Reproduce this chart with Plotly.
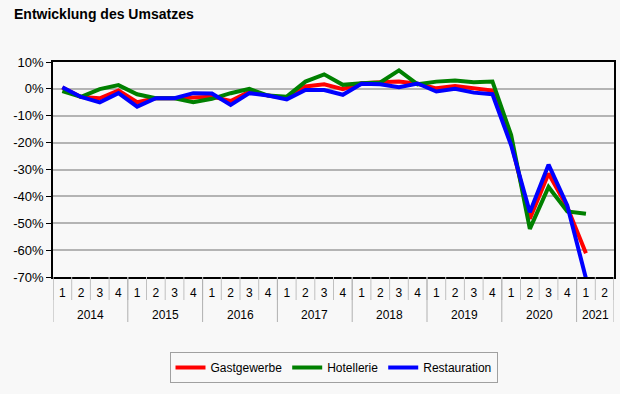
import plotly.graph_objects as go

year_labels = ["2014", "2015", "2016", "2017", "2018", "2019", "2020", "2021"]
quarters_per_year = [4, 4, 4, 4, 4, 4, 4, 2]
years = [y for y, n in zip(year_labels, quarters_per_year) for _ in range(n)]
quarters = [str(q + 1) for n in quarters_per_year for q in range(n)]
categories = [f"{y}-{q}" for y, q in zip(years, quarters)]

gastgewerbe = [0.5, -3, -3.5, -0.6, -5, -3.5, -3.5, -3.2, -2.9, -4.5, -1, -2.5,
               -3.5, 0.9, 1.7, -0.1, 2.1, 2.5, 2.7, 1.9, 0.2, 1.1, 0.2, -0.6,
               -20, -48.3, -31.5, -44, -61.2, None]
hotellerie = [-0.8, -3, -0.1, 1.4, -2, -3.5, -3.5, -5, -3.7, -1.6, 0, -2.5,
              -2.9, 2.7, 5.4, 1.5, 2.1, 2.4, 6.9, 1.7, 2.7, 3.1, 2.5, 2.7,
              -17.2, -52.1, -36.5, -45.6, -46.5, None]
restauration = [0.6, -3, -5, -1.6, -6.6, -3.5, -3.5, -1.6, -1.7, -6, -1.6, -2.5,
                -3.9, -0.4, -0.4, -2.2, 1.9, 1.7, 0.6, 2.0, -1, 0, -1.4, -2,
                -21, -45.9, -28.2, -43.4, -70.5, None]

y_ticks = [10, 0, -10, -20, -30, -40, -50, -60, -70]
y_ticktext = [f"{v}%" for v in y_ticks]

font_family = "Arial, Liberation Sans, sans-serif"
PLOT_H = 394 - 62 - 117

fig = go.Figure()
for name, vals, col in [("Gastgewerbe", gastgewerbe, "#ff0000"),
                        ("Hotellerie", hotellerie, "#008000"),
                        ("Restauration", restauration, "#0000ff")]:
    fig.add_trace(go.Scatter(x=categories, y=vals, name=name, mode="lines",
                             line=dict(color=col, width=4)))

shapes = []
# quarter separators
for i in range(len(categories) + 1):
    shapes.append(dict(type="line", xref="x", yref="paper", x0=i - 0.5, x1=i - 0.5,
                       y0=0, y1=-23 / PLOT_H, line=dict(color="#c0c0c0", width=1)))
# year dividers and year labels
annotations = []
start = 0
bounds = [0]
for y, n in zip(year_labels, quarters_per_year):
    annotations.append(dict(text=y, xref="x", yref="paper", x=start + (n - 1) / 2,
                            y=-38 / PLOT_H, yanchor="middle", xanchor="center",
                            showarrow=False, font=dict(size=12, color="black")))
    start += n
    bounds.append(start)
for b in bounds:
    shapes.append(dict(type="line", xref="x", yref="paper", x0=b - 0.5, x1=b - 0.5,
                       y0=0, y1=-45 / PLOT_H, line=dict(color="#b0b0b0", width=1)))

fig.update_layout(
    width=620, height=394,
    margin=dict(l=53, r=4, t=62, b=117),
    paper_bgcolor="#f8f8f8", plot_bgcolor="#f8f8f8",
    font=dict(family=font_family, size=13, color="black"),
    title=dict(text="<b>Entwicklung des Umsatzes</b>", x=14 / 620, xanchor="left",
               xref="container", yref="container",
               y=1 - 14 / 394, yanchor="middle", font=dict(size=14, color="black")),
    showlegend=True,
    legend=dict(orientation="h", x=0.5, xanchor="center", y=-75 / PLOT_H, yanchor="top",
                bordercolor="#a0a0a0", borderwidth=1, bgcolor="#f8f8f8",
                font=dict(size=12), itemwidth=30, tracegroupgap=0),
    xaxis=dict(type="category", categoryorder="array", categoryarray=categories,
               tickvals=categories, ticktext=quarters, range=[-0.5, len(categories) - 0.5],
               showline=True, linecolor="black", linewidth=1.5, mirror=True,
               showgrid=False, ticks="", tickfont=dict(size=12), ticklabelstandoff=4),
    yaxis=dict(range=[-70, 10], tickvals=y_ticks, ticktext=y_ticktext, showline=True,
               linecolor="black", linewidth=1.5, mirror=True, showgrid=True,
               gridcolor="#b4b4b4", gridwidth=1.5, ticks="outside", ticklen=5,
               tickcolor="black", zeroline=False, tickfont=dict(size=13)),
    shapes=shapes,
    annotations=annotations,
)

fig.write_html("out.html", config={"displayModeBar": False},
               post_script="document.body.style.margin='0';")
